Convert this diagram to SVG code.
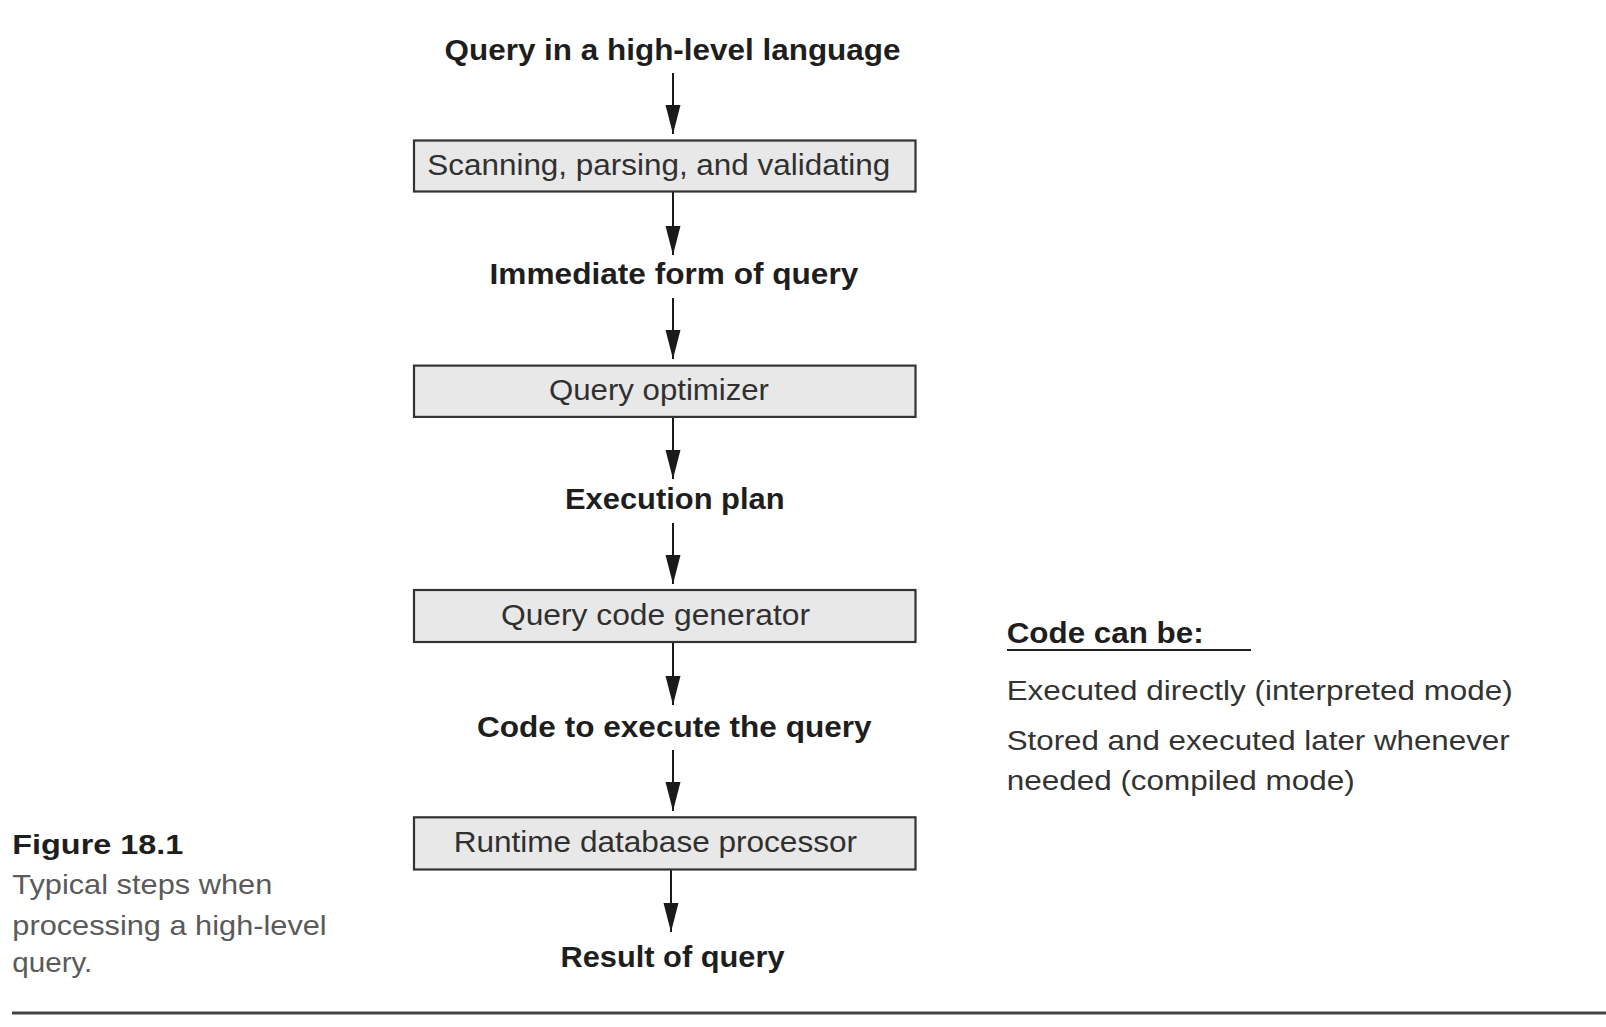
<svg xmlns="http://www.w3.org/2000/svg" width="1606" height="1027" viewBox="0 0 1606 1027">
<style>
.bg{fill:#ffffff}
.box{fill:#e8e8e8;stroke:#333333;stroke-width:2.2}
.boxt{font-family:"Liberation Sans",Arial,Helvetica,sans-serif;font-size:29px;fill:#303030}
.lbl{font-family:"Liberation Sans",Arial,Helvetica,sans-serif;font-size:29px;font-weight:bold;fill:#1e1e1e}
.cap{font-family:"Liberation Sans",Arial,Helvetica,sans-serif;font-size:28px;fill:#5a5a5a}
.capb{font-family:"Liberation Sans",Arial,Helvetica,sans-serif;font-size:28px;font-weight:bold;fill:#1e1e1e}
.note{font-family:"Liberation Sans",Arial,Helvetica,sans-serif;font-size:27.5px;fill:#333333}
.edge{stroke:#1a1a1a;stroke-width:2;fill:none;marker-end:url(#ah)}
.rule{stroke:#444444;stroke-width:3}
.uline{stroke:#222222;stroke-width:2}
</style>
<defs>
<marker id="ah" markerUnits="userSpaceOnUse" markerWidth="30" markerHeight="16" refX="29" refY="7.5" orient="auto">
<path d="M0,0 L29,7.5 L0,15 Z" fill="#1a1a1a"/>
</marker>
</defs>
<rect class="bg" x="0" y="0" width="1606" height="1027"/>

<g id="connectors">
<line class="edge" x1="673" y1="73" x2="673" y2="134"/>
<line class="edge" x1="673" y1="192" x2="673" y2="255"/>
<line class="edge" x1="673" y1="298" x2="673" y2="359"/>
<line class="edge" x1="673" y1="417" x2="673" y2="479"/>
<line class="edge" x1="673" y1="523" x2="673" y2="584"/>
<line class="edge" x1="673" y1="642" x2="673" y2="705"/>
<line class="edge" x1="673" y1="750" x2="673" y2="811"/>
<line class="edge" x1="671" y1="870" x2="671" y2="932"/>
</g>

<g id="query-input">
<text class="lbl" x="444.5" y="60" textLength="456" lengthAdjust="spacingAndGlyphs">Query in a high-level language</text>
</g>

<g id="scanning">
<rect class="box" x="414" y="140.5" width="501.5" height="51"/>
<text class="boxt" x="427.3" y="174.5" textLength="463" lengthAdjust="spacingAndGlyphs">Scanning, parsing, and validating</text>
</g>

<g id="immediate-form">
<text class="lbl" x="489.6" y="284.3" textLength="368.7" lengthAdjust="spacingAndGlyphs">Immediate form of query</text>
</g>

<g id="optimizer">
<rect class="box" x="414" y="365.6" width="501.5" height="51.3"/>
<text class="boxt" x="549" y="400" textLength="220" lengthAdjust="spacingAndGlyphs">Query optimizer</text>
</g>

<g id="execution-plan">
<text class="lbl" x="565" y="509" textLength="219.5" lengthAdjust="spacingAndGlyphs">Execution plan</text>
</g>

<g id="code-generator">
<rect class="box" x="414" y="590" width="501.5" height="52"/>
<text class="boxt" x="501" y="624.5" textLength="309" lengthAdjust="spacingAndGlyphs">Query code generator</text>
</g>

<g id="code-to-execute">
<text class="lbl" x="477" y="737" textLength="394.6" lengthAdjust="spacingAndGlyphs">Code to execute the query</text>
</g>

<g id="runtime">
<rect class="box" x="414" y="817.3" width="501.5" height="52.2"/>
<text class="boxt" x="453.7" y="851.5" textLength="403.3" lengthAdjust="spacingAndGlyphs">Runtime database processor</text>
</g>

<g id="result">
<text class="lbl" x="560.5" y="966.5" textLength="224" lengthAdjust="spacingAndGlyphs">Result of query</text>
</g>

<g id="code-note">
<text class="lbl" x="1006.7" y="643" textLength="197" lengthAdjust="spacingAndGlyphs">Code can be:</text>
<line class="uline" x1="1007" y1="650" x2="1251" y2="650"/>
<text class="note" x="1006.7" y="700" textLength="506" lengthAdjust="spacingAndGlyphs">Executed directly (interpreted mode)</text>
<text class="note" x="1006.7" y="750" textLength="503" lengthAdjust="spacingAndGlyphs">Stored and executed later whenever</text>
<text class="note" x="1006.7" y="790" textLength="348" lengthAdjust="spacingAndGlyphs">needed (compiled mode)</text>
</g>

<g id="caption">
<text class="capb" x="12.3" y="854.3" textLength="171" lengthAdjust="spacingAndGlyphs">Figure 18.1</text>
<text class="cap" x="12.3" y="894" textLength="260" lengthAdjust="spacingAndGlyphs">Typical steps when</text>
<text class="cap" x="12.3" y="934.5" textLength="314.4" lengthAdjust="spacingAndGlyphs">processing a high-level</text>
<text class="cap" x="12.3" y="972" textLength="80" lengthAdjust="spacingAndGlyphs">query.</text>
</g>

<line class="rule" x1="12" y1="1013" x2="1606" y2="1013"/>
</svg>
